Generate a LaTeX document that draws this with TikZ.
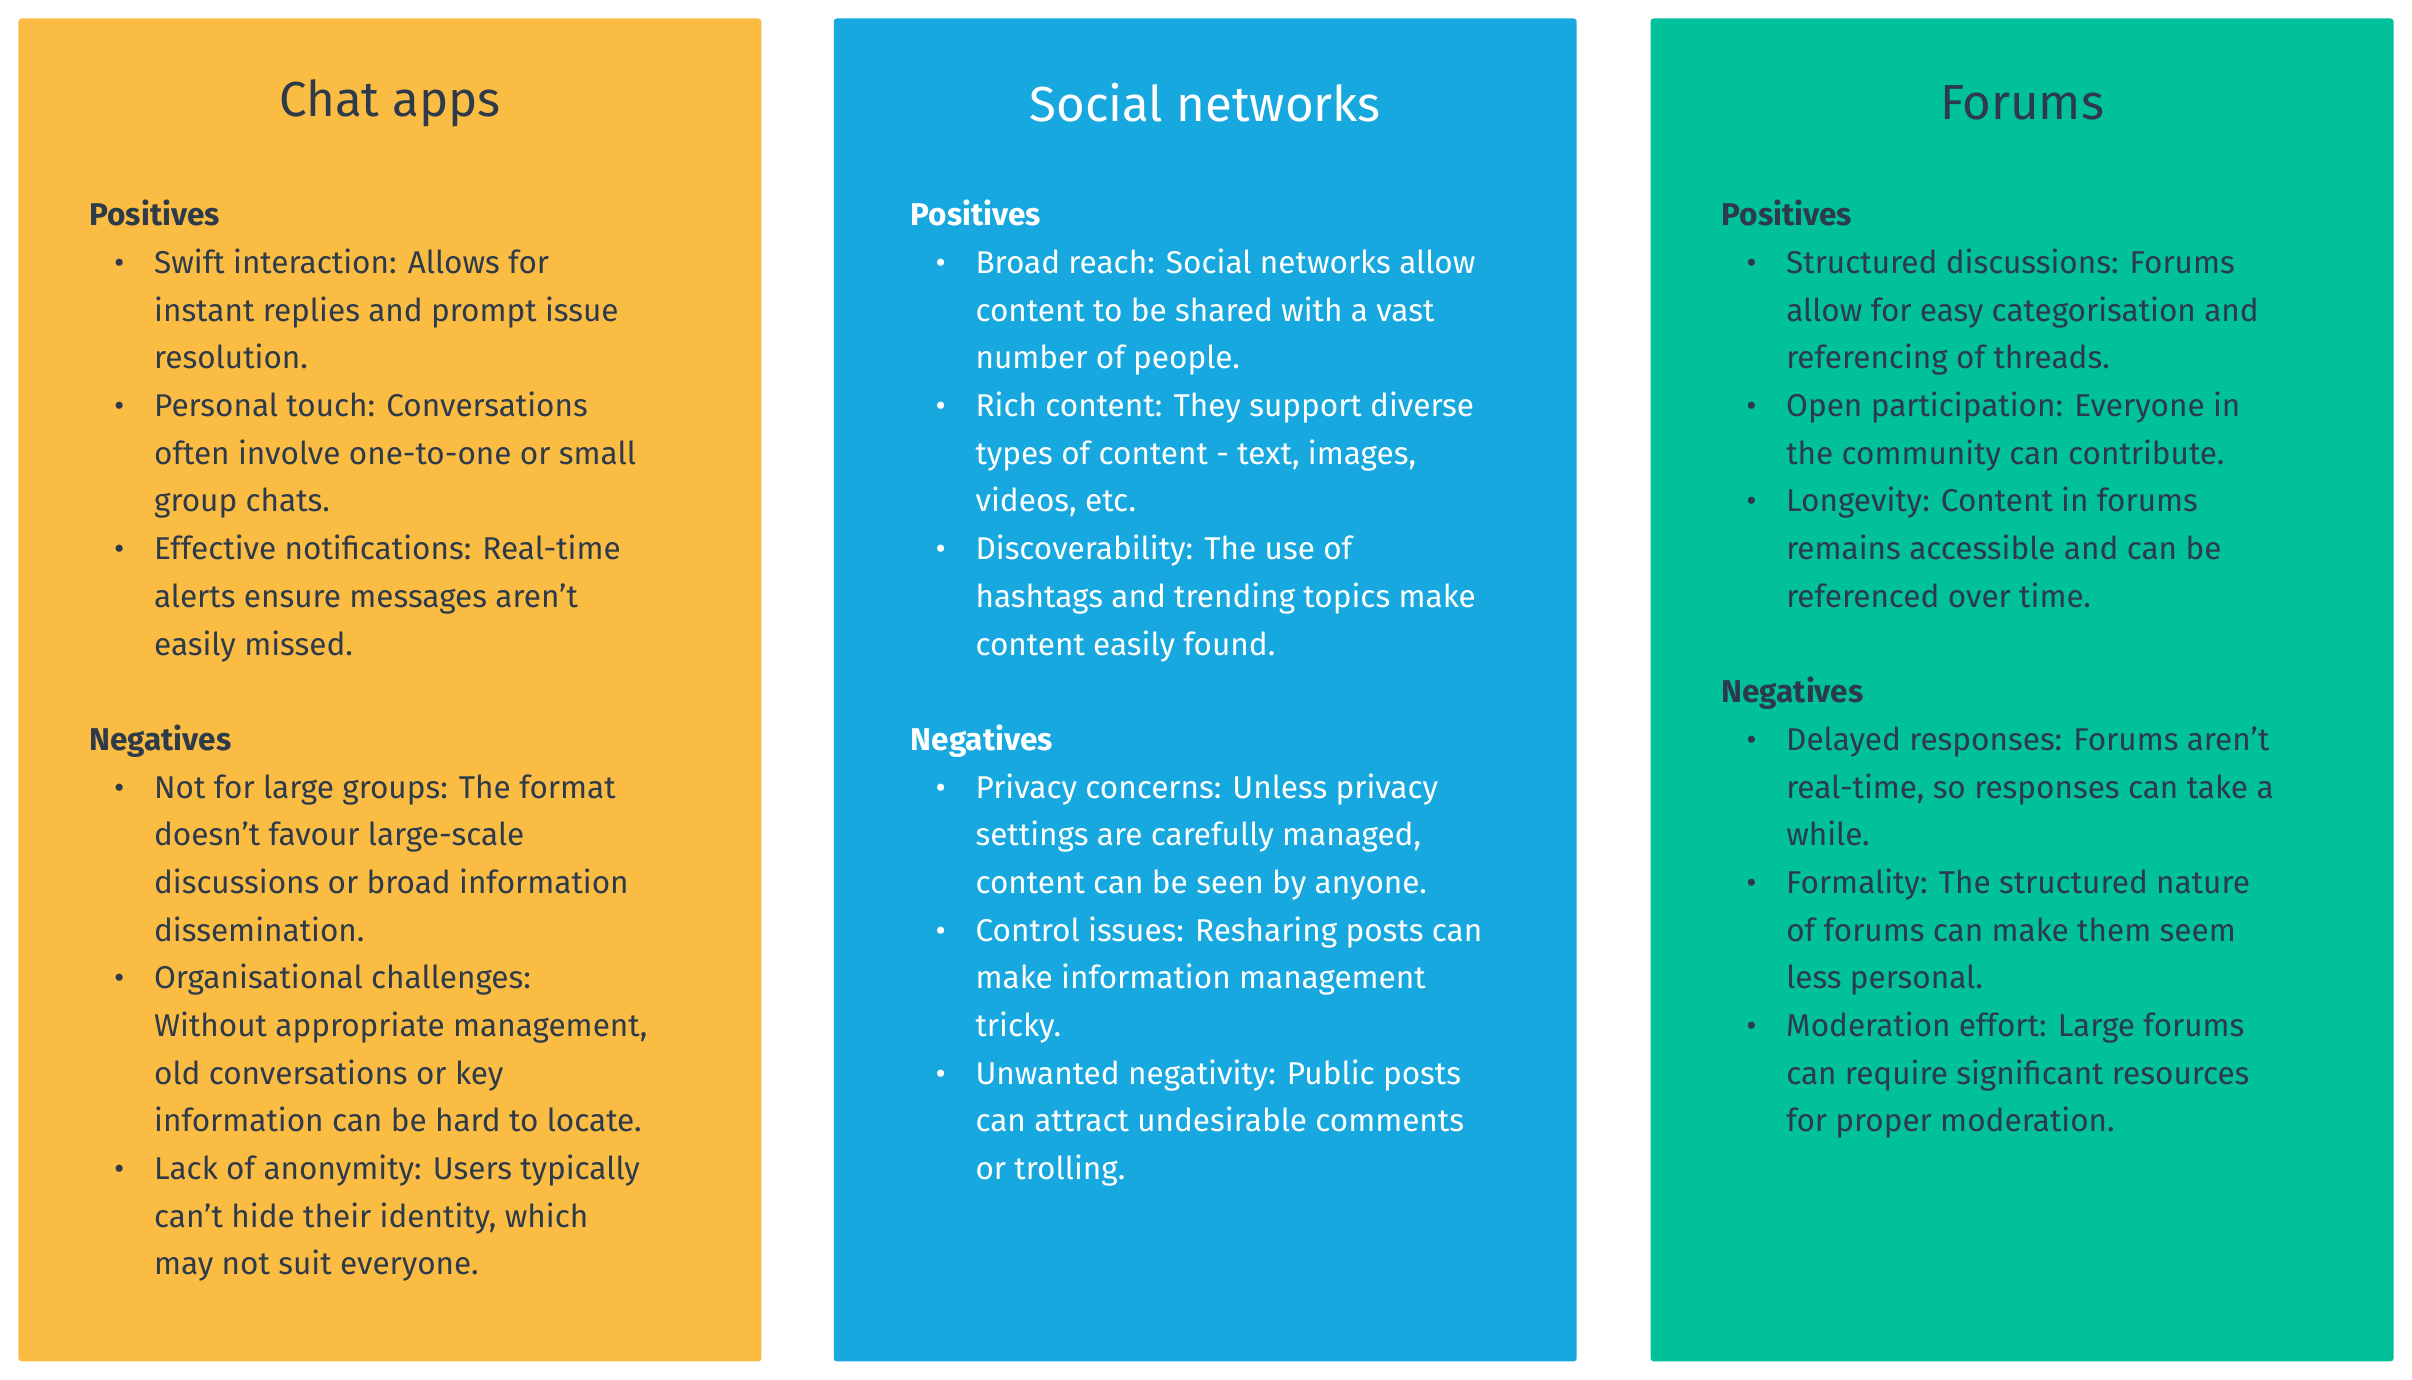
\documentclass[tikz,border=0pt]{standalone}
\usepackage{fontspec}
\setmainfont{Fira Sans}
\definecolor{corange}{HTML}{FBBC43}
\definecolor{cblue}{HTML}{18A8E0}
\definecolor{cgreen}{HTML}{00C19A}
\definecolor{ink}{HTML}{2D3A4A}
\newcommand{\bl}[1]{\makebox[42bp][l]{\hspace{16bp}\textbullet}#1}
\newcommand{\ct}[1]{\hspace{42bp}#1}
\newcommand{\hd}[1]{\textbf{#1}}
\begin{document}
\begin{tikzpicture}[x=1bp,y=-1bp,
  panel/.style={rounded corners=2bp},
  title/.style={font=\fontsize{32bp}{38bp}\selectfont},
  body/.style={anchor=north west,align=left,inner sep=0pt,font=\fontsize{20.5bp}{31bp}\selectfont}]
\useasboundingbox (0,0) rectangle (1568,897);
\fill[white] (0,0) rectangle (1568,897);
\fill[corange,panel] (12,12) rectangle (495,885);
\fill[cblue,panel] (542,12) rectangle (1025,885);
\fill[cgreen,panel] (1073,12) rectangle (1556,885);
\node[title,text=ink] (t1) at (253.5,67) {Chat apps};
\node[title,text=white] (t2) at (783.5,67) {Social networks};
\node[title,text=ink] (t3) at (1314.5,67) {Forums};
\node[body,text=ink] (b1) at (58,130) {\hd{Positives}\\
\bl{Swift interaction: Allows for}\\
\ct{instant replies and prompt issue}\\
\ct{resolution.}\\
\bl{Personal touch: Conversations}\\
\ct{often involve one-to-one or small}\\
\ct{group chats.}\\
\bl{Effective notifications: Real-time}\\
\ct{alerts ensure messages aren't}\\
\ct{easily missed.}\\[31bp]
\hd{Negatives}\\
\bl{Not for large groups: The format}\\
\ct{doesn't favour large-scale}\\
\ct{discussions or broad information}\\
\ct{dissemination.}\\
\bl{Organisational challenges:}\\
\ct{Without appropriate management,}\\
\ct{old conversations or key}\\
\ct{information can be hard to locate.}\\
\bl{Lack of anonymity: Users typically}\\
\ct{can't hide their identity, which}\\
\ct{may not suit everyone.}};
\node[body,text=white] (b2) at (592,130) {\hd{Positives}\\
\bl{Broad reach: Social networks allow}\\
\ct{content to be shared with a vast}\\
\ct{number of people.}\\
\bl{Rich content: They support diverse}\\
\ct{types of content - text, images,}\\
\ct{videos, etc.}\\
\bl{Discoverability: The use of}\\
\ct{hashtags and trending topics make}\\
\ct{content easily found.}\\[31bp]
\hd{Negatives}\\
\bl{Privacy concerns: Unless privacy}\\
\ct{settings are carefully managed,}\\
\ct{content can be seen by anyone.}\\
\bl{Control issues: Resharing posts can}\\
\ct{make information management}\\
\ct{tricky.}\\
\bl{Unwanted negativity: Public posts}\\
\ct{can attract undesirable comments}\\
\ct{or trolling.}};
\node[body,text=ink] (b3) at (1119,130) {\hd{Positives}\\
\bl{Structured discussions: Forums}\\
\ct{allow for easy categorisation and}\\
\ct{referencing of threads.}\\
\bl{Open participation: Everyone in}\\
\ct{the community can contribute.}\\
\bl{Longevity: Content in forums}\\
\ct{remains accessible and can be}\\
\ct{referenced over time.}\\[31bp]
\hd{Negatives}\\
\bl{Delayed responses: Forums aren't}\\
\ct{real-time, so responses can take a}\\
\ct{while.}\\
\bl{Formality: The structured nature}\\
\ct{of forums can make them seem}\\
\ct{less personal.}\\
\bl{Moderation effort: Large forums}\\
\ct{can require significant resources}\\
\ct{for proper moderation.}};
\end{tikzpicture}
\end{document}
